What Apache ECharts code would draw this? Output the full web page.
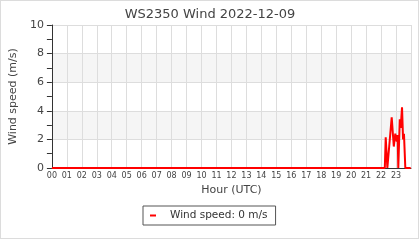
<!DOCTYPE html>
<html>
<head>
<meta charset="utf-8">
<script src="https://cdn.jsdelivr.net/npm/echarts@6/dist/echarts.min.js"></script>
<style>
html,body{margin:0;padding:0;background:#fff;}
#frame{position:absolute;left:0;top:0;width:419px;height:239px;box-sizing:border-box;border:1px solid #dcdcdc;}
#c{position:absolute;left:0;top:0;width:420px;height:240px;}
</style>
</head>
<body>
<div id="frame"></div>
<div id="c"></div>
<script>
const titleText = "WS2350 Wind 2022-12-09";
const seriesName = "Wind speed: 0 m/s";
const yTicks = [0, 2, 4, 6, 8, 10];
const hourLabels = ["00","01","02","03","04","05","06","07","08","09","10","11","12","13","14","15","16","17","18","19","20","21","22","23"];
// time in hours (UTC) and wind speed (m/s)
const hours = [0, 22.25, 22.31, 22.42, 22.51, 22.71, 22.85, 22.95, 23.05, 23.11, 23.15, 23.2, 23.25, 23.31, 23.4, 23.47, 23.53, 23.62, 23.98];
const speeds = [0, 0, 2.15, 0, 0, 3.55, 1.5, 2.4, 1.85, 2.3, 0, 0, 3.4, 2.8, 4.25, 2.0, 2.4, 0, 0];

const data = hours.map((h, i) => [h, speeds[i]]);
const chart = echarts.init(document.getElementById('c'), null, {renderer: 'canvas'});
const font = 'DejaVu Sans';
chart.setOption({
  animation: false,
  textStyle: {fontFamily: font},
  title: {
    text: titleText, left: 'center', top: 3,
    textStyle: {fontFamily: font, fontSize: 13, fontWeight: 'normal', color: '#444'}
  },
  grid: {left: 51, right: 9, top: 25, bottom: 72, containLabel: false},
  xAxis: {
    type: 'value', min: 0, max: 24, interval: 1,
    name: 'Hour (UTC)', nameLocation: 'middle', nameGap: 14,
    nameTextStyle: {fontFamily: font, fontSize: 11, color: '#444'},
    axisLine: {show: true, lineStyle: {color: '#333', width: 1}},
    axisTick: {show: false},
    axisLabel: {fontFamily: font, fontSize: 8, color: '#444', margin: 4,
      formatter: v => (v < 24 ? hourLabels[v] : '')},
    splitLine: {show: true, lineStyle: {color: '#dddddd', width: 1}}
  },
  yAxis: {
    type: 'value', min: yTicks[0], max: yTicks[yTicks.length - 1], interval: 2,
    name: 'Wind speed (m/s)', nameLocation: 'middle', nameGap: 30,
    nameTextStyle: {fontFamily: font, fontSize: 11, color: '#444'},
    axisLine: {show: true, lineStyle: {color: '#333', width: 1}},
    axisTick: {show: true, inside: false, length: 5, lineStyle: {color: '#333'}},
    minorTick: {show: true, splitNumber: 2, length: 5, lineStyle: {color: '#333'}},
    axisLabel: {fontFamily: font, fontSize: 11, color: '#444', margin: 8},
    splitLine: {show: true, lineStyle: {color: '#dddddd', width: 1}},
    splitArea: {show: true, areaStyle: {color: ['#ffffff', '#f5f5f5']}}
  },
  legend: {
    left: 143, top: 206,
    padding: [4, 8, 4, 7],
    borderColor: '#555', borderWidth: 1,
    icon: 'rect', itemWidth: 6, itemHeight: 2,
    textStyle: {fontFamily: font, fontSize: 10.5, color: '#333', padding: [0, 0, 0, 9]},
    data: [seriesName]
  },
  series: [{
    name: seriesName, type: 'line', data: data,
    showSymbol: false, symbol: 'none',
    lineStyle: {color: '#ff0000', width: 2},
    itemStyle: {color: '#ff0000'}
  }]
});
</script>
</body>
</html>
